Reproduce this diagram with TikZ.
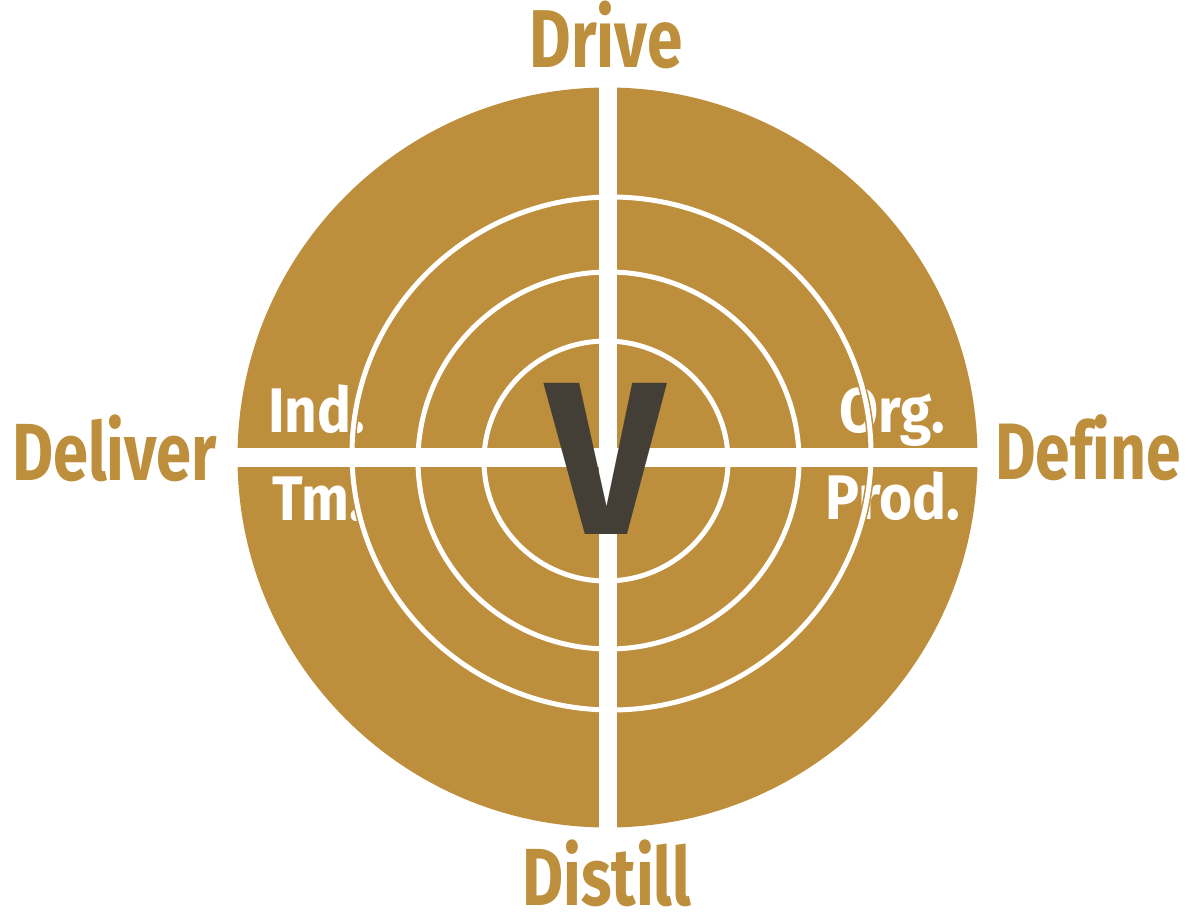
\documentclass[tikz,border=0pt]{standalone}
\usepackage{fontspec}
\setmainfont{Fira Sans}
\newfontfamily\lab{Fira Sans}[FakeStretch=0.78,Ligatures=NoCommon]
\newfontfamily\inlab{Fira Sans}[FakeStretch=0.9,Ligatures=NoCommon]
\newfontfamily\vfont{Fira Sans}[FakeStretch=0.9]
\definecolor{gold}{HTML}{BD8E3C}
\definecolor{darkv}{HTML}{433E36}
\tikzset{
  outerlab/.style={text=gold, inner sep=0pt, anchor=base west, font=\lab\bfseries},
  innerlab/.style={text=white, inner sep=0pt, anchor=base west, font=\inlab\bfseries\fontsize{63}{63}\selectfont},
  ringedge/.style={draw=gold, line width=8pt},
  ringline/.style={draw=white, line width=5pt}
}
\begin{document}
\begin{tikzpicture}[x=1pt,y=-1pt]
\useasboundingbox (0,0) rectangle (1192,913);
% disc
\fill[gold] (607.5,457.5) circle [radius=370pt];
% inner labels
\node[innerlab] (ind) at (268,432) {Ind.};
\node[innerlab] (tm) at (272,520) {Tm.};
\node[innerlab] (org) at (839,432) {Org.};
\node[innerlab] (prod) at (825,519) {Prod.};
% rings
\foreach \cx/\cy/\rx/\ry in {611.5/453.5/259.5/256.5, 608.5/460.5/190.5/188.5, 606/461/122/120}{
  \draw[ringedge] (\cx,\cy) ellipse [x radius=\rx pt, y radius=\ry pt];
  \draw[ringline] (\cx,\cy) ellipse [x radius=\rx pt, y radius=\ry pt];
}
% cross
\fill[white] (598.5,86) rectangle (617,830);
\fill[white] (236,448) rectangle (979,467);
% central V
\node[inner sep=0pt, anchor=south, text=darkv] (vee) at (606,535) {\resizebox{118pt}{151pt}{\vfont\bfseries V}};
% outer labels
\node[outerlab, font=\lab\bfseries\fontsize{82}{82}\selectfont, anchor=base] (drive) at (606,67) {Drive};
\node[outerlab, font=\lab\bfseries\fontsize{81}{81}\selectfont] (deliver) at (12,480) {Deliver};
\node[outerlab, font=\lab\bfseries\fontsize{80}{80}\selectfont] (define) at (995,479) {Define};
\node[outerlab, font=\lab\bfseries\fontsize{81}{81}\selectfont] (distill) at (522,905) {Distill};
\end{tikzpicture}
\end{document}
